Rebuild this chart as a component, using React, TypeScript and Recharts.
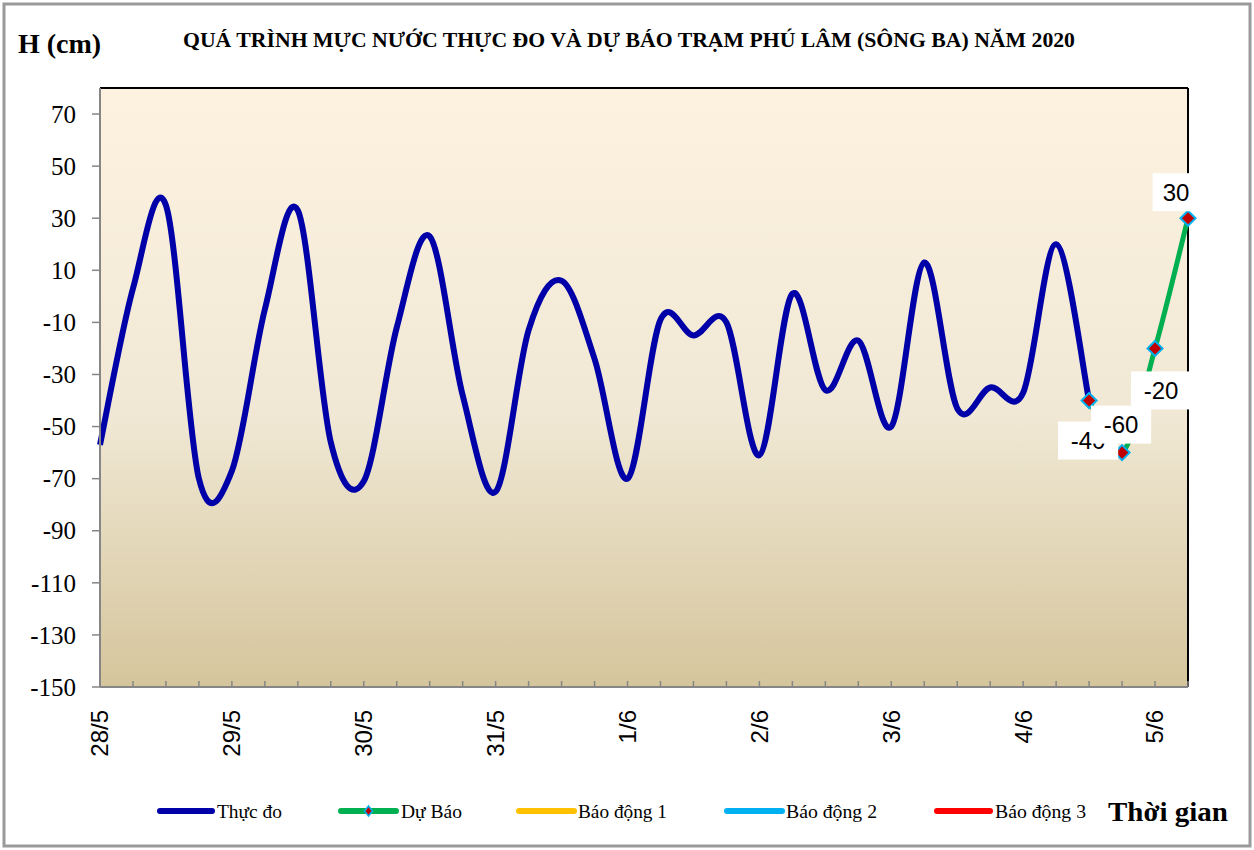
import React from 'react';
import { LineChart, Line, XAxis, YAxis, CartesianGrid, ReferenceLine, LabelList } from 'recharts';

const times = [
  '28/5 00h', '28/5 06h', '28/5 12h', '28/5 18h',
  '29/5 00h', '29/5 06h', '29/5 12h', '29/5 18h',
  '30/5 00h', '30/5 06h', '30/5 12h', '30/5 18h',
  '31/5 00h', '31/5 06h', '31/5 12h', '31/5 18h',
  '1/6 00h', '1/6 06h', '1/6 12h', '1/6 18h',
  '2/6 00h', '2/6 06h', '2/6 12h', '2/6 18h',
  '3/6 00h', '3/6 06h', '3/6 12h', '3/6 18h',
  '4/6 00h', '4/6 06h', '4/6 12h', '4/6 18h',
  '5/6 00h', '5/6 06h',
];

const measured = [
  -57, 3, 35, -70, -67, -5, 33, -56, -71, -12, 23, -38, -75, -13, 6, -24,
  -70, -9, -15, -10, -61, 1, -36, -17, -50, 13, -43, -35, -37, 20, -40,
  null, null, null,
];

const forecast = [
  null, null, null, null, null, null, null, null, null, null, null, null,
  null, null, null, null, null, null, null, null, null, null, null, null,
  null, null, null, null, null, null, -40, -60, -20, 30,
];

const yTicks = [-150, -130, -110, -90, -70, -50, -30, -10, 10, 30, 50, 70];
const yDomain = [-150, 80];

const title = 'QUÁ TRÌNH MỰC NƯỚC THỰC ĐO VÀ DỰ BÁO TRẠM  PHÚ LÂM (SÔNG BA) NĂM 2020';
const yTitle = 'H (cm)';
const xTitle = 'Thời gian';
const legendNames = ['Thực đo', 'Dự Báo', 'Báo động 1', 'Báo động 2', 'Báo động 3'];

const data = times.map((t, i) => ({ t, measured: measured[i], forecast: forecast[i] }));

// Excel-like smoothed line (Catmull-Rom style Bezier through points)
function excelCurve(context: any) {
  let pts: number[][] = [];
  return {
    areaStart() {},
    areaEnd() {},
    lineStart() { pts = []; },
    point(x: number, y: number) { pts.push([+x, +y]); },
    lineEnd() {
      const n = pts.length;
      if (n === 0) return;
      context.moveTo(pts[0][0], pts[0][1]);
      if (n === 1) return;
      const k = 1 / 6;
      for (let i = 0; i < n - 1; i++) {
        const p0 = pts[i - 1] || pts[i];
        const p1 = pts[i];
        const p2 = pts[i + 1];
        const p3 = pts[i + 2] || p2;
        context.bezierCurveTo(
          p1[0] + (p2[0] - p0[0]) * k, p1[1] + (p2[1] - p0[1]) * k,
          p2[0] - (p3[0] - p1[0]) * k, p2[1] - (p3[1] - p1[1]) * k,
          p2[0], p2[1]
        );
      }
    },
  };
}

const SERIF = '"Liberation Serif", "Times New Roman", serif';
const SANS = '"Liberation Sans", Arial, sans-serif';

const XTick = (props: any) => {
  const { x, y, payload } = props;
  const v: string = payload.value;
  const isDay = v.endsWith('00h');
  return (
    <g>
      <line x1={x} y1={y} x2={x} y2={y - 6} stroke="#868686" strokeWidth={1.5} />
      {isDay && (
        <text
          x={x}
          y={y + 23}
          transform={`rotate(-90, ${x}, ${y + 23})`}
          textAnchor="end"
          dy="0.35em"
          fontFamily={SANS}
          fontSize={24}
          fill="#000"
        >
          {v.split(' ')[0]}
        </text>
      )}
    </g>
  );
};

const YTick = (props: any) => {
  const { x, y, payload } = props;
  return (
    <text x={x} y={y} dy="0.35em" textAnchor="end" fontFamily={SERIF} fontSize={25} fill="#000">
      {payload.value}
    </text>
  );
};

const Diamond = (props: any) => {
  const { cx, cy, index } = props;
  if (cx == null || cy == null || props.value == null) return <g key={`d${index}`} />;
  const r = 7.5;
  return (
    <path
      key={`d${index}`}
      d={`M${cx},${cy - r} L${cx + r},${cy} L${cx},${cy + r} L${cx - r},${cy} Z`}
      fill="#C00000"
      stroke="#00B0F0"
      strokeWidth={2}
    />
  );
};

const labelPlacement = [
  { dx: -1, dy: 40 },
  { dx: -1, dy: -28 },
  { dx: 6, dy: 42 },
  { dx: -12, dy: -26 },
];

const ForecastLabel = (props: any) => {
  const { x, y, value, index } = props;
  if (value == null || x == null || y == null) return null;
  const firstIdx = forecast.findIndex((v) => v != null);
  const p = labelPlacement[index - firstIdx] || { dx: 0, dy: -28 };
  const s = String(value);
  const w = s.length * 13.4 + 20;
  const h = 38;
  const cx = x + p.dx;
  const cy = y + p.dy;
  return (
    <g>
      <rect x={cx - w / 2} y={cy - h / 2} width={w} height={h} fill="#fff" />
      <text x={cx} y={cy} dy="0.36em" textAnchor="middle" fontFamily={SANS} fontSize={24} fill="#000">
        {s}
      </text>
    </g>
  );
};

const legendItems = [
  { color: '#0000A8', x1: 160, x2: 212, tx: 217, len: 65, marker: false },
  { color: '#00B050', x1: 341, x2: 396, tx: 401, len: 61, marker: true },
  { color: '#FFC000', x1: 519, x2: 574, tx: 578, len: 89, marker: false },
  { color: '#00B0F0', x1: 727, x2: 782, tx: 786, len: 91, marker: false },
  { color: '#FF0000', x1: 937, x2: 990, tx: 995, len: 91, marker: false },
];

export default function App() {
  const legendY = 811;
  return (
    <div style={{ position: 'absolute', left: 0, top: 0, width: 1254, height: 850, background: '#fff' }}>
      <LineChart
        width={1254}
        height={850}
        data={data}
        margin={{ top: 88, right: 66, bottom: 103, left: 0 }}
      >
        <defs>
          <linearGradient id="plotBg" x1="0" y1="0" x2="0" y2="1">
            <stop offset="0%" stopColor="#FDF2E0" />
            <stop offset="55%" stopColor="#F0E8D4" />
            <stop offset="100%" stopColor="#D5C59C" />
          </linearGradient>
        </defs>
        <CartesianGrid horizontal={false} vertical={false} fill="url(#plotBg)" stroke="none" />
        <XAxis
          dataKey="t"
          scale="point"
          interval={0}
          tickLine={false}
          tickSize={0}
          tickMargin={0}
          height={60}
          axisLine={{ stroke: '#868686', strokeWidth: 2 }}
          tick={<XTick />}
        />
        <YAxis
          type="number"
          domain={yDomain}
          ticks={yTicks}
          allowDataOverflow
          width={100}
          tickSize={8}
          tickMargin={16}
          axisLine={{ stroke: '#868686', strokeWidth: 2 }}
          tickLine={{ stroke: '#868686', strokeWidth: 1.5 }}
          tick={<YTick />}
        />
        <ReferenceLine y={80} stroke="#000" strokeWidth={2} ifOverflow="extendDomain" />
        <ReferenceLine x={times[times.length - 1]} stroke="#000" strokeWidth={2} />
        <Line
          dataKey="measured"
          type={excelCurve as any}
          stroke="#0000A8"
          strokeWidth={6}
          dot={false}
          activeDot={false}
          connectNulls={false}
          isAnimationActive={false}
        />
        <Line
          dataKey="forecast"
          type={excelCurve as any}
          stroke="#00B050"
          strokeWidth={5}
          dot={(p: any) => <Diamond {...p} />}
          activeDot={false}
          isAnimationActive={false}
        >
          <LabelList dataKey="forecast" content={(p: any) => <ForecastLabel {...p} />} />
        </Line>
      </LineChart>

      <svg
        width={1254}
        height={850}
        style={{ position: 'absolute', left: 0, top: 0, pointerEvents: 'none' }}
      >
        <rect x={4} y={4} width={1246} height={842} fill="none" stroke="#9A9A9A" strokeWidth={3} />
        <text x={18} y={53} fontFamily={SERIF} fontWeight="bold" fontSize={28} fill="#000">
          {yTitle}
        </text>
        <text
          x={183}
          y={47}
          fontFamily={SERIF}
          fontWeight="bold"
          fontSize={20}
          fill="#000"
          textLength={892}
          lengthAdjust="spacingAndGlyphs"
        >
          {title}
        </text>
        {legendItems.map((it, i) => (
          <g key={i}>
            <line x1={it.x1} y1={legendY} x2={it.x2} y2={legendY} stroke={it.color} strokeWidth={6} strokeLinecap="round" />
            {it.marker && (
              <path
                d={`M${(it.x1 + it.x2) / 2},${legendY - 5} L${(it.x1 + it.x2) / 2 + 4},${legendY} L${(it.x1 + it.x2) / 2},${legendY + 5} L${(it.x1 + it.x2) / 2 - 4},${legendY} Z`}
                fill="#C00000"
                stroke="#00B0F0"
                strokeWidth={1.5}
              />
            )}
            <text
              x={it.tx}
              y={legendY}
              dy="0.35em"
              fontFamily={SERIF}
              fontSize={19}
              fill="#000"
              textLength={it.len}
              lengthAdjust="spacingAndGlyphs"
            >
              {legendNames[i]}
            </text>
          </g>
        ))}
        <text
          x={1108}
          y={legendY}
          dy="0.35em"
          fontFamily={SERIF}
          fontWeight="bold"
          fontSize={28}
          fill="#000"
          textLength={120}
          lengthAdjust="spacingAndGlyphs"
        >
          {xTitle}
        </text>
      </svg>
    </div>
  );
}
